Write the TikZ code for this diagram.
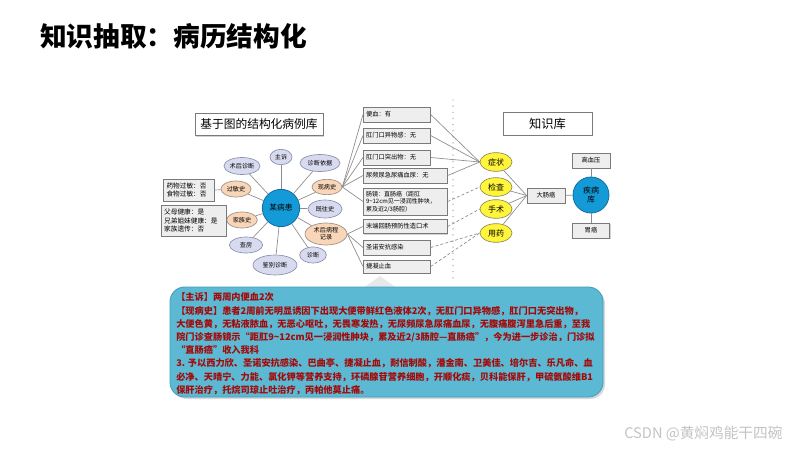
\documentclass[tikz,border=0pt]{standalone}
\usepackage{fontspec}
\setmainfont{Noto Sans CJK SC}
\usetikzlibrary{shapes.geometric,shadows}
\definecolor{lav}{HTML}{D8DBEF}
\definecolor{lavbd}{HTML}{8A90AE}
\definecolor{peach}{HTML}{FAD6B8}
\definecolor{pchbd}{HTML}{9C8F88}
\definecolor{cblue}{HTML}{149BD7}
\definecolor{cbd}{HTML}{0F6E9E}
\definecolor{yel}{HTML}{FFF53A}
\definecolor{yelbd}{HTML}{8C8A5A}
\definecolor{boxfill}{HTML}{EEEEEE}
\definecolor{boxbd}{HTML}{7A7A7A}
\definecolor{linegray}{HTML}{8C8C8C}
\definecolor{bbfill}{HTML}{5BB9D3}
\definecolor{bbbd}{HTML}{3E9DBA}
\definecolor{txtred}{HTML}{A30A0A}
\definecolor{wm}{HTML}{C4C4C4}
\begin{document}
\begin{tikzpicture}[x=0.75pt,y=-0.75pt,
  conn/.style={draw=linegray, line width=0.5pt},
  dconn/.style={conn, dash pattern=on 2.2pt off 1.6pt},
  lavel/.style={ellipse, draw=lavbd, fill=lav, line width=0.5pt, inner sep=0pt, font=\fontsize{4.6}{5.4}\selectfont, align=center},
  pchel/.style={lavel, fill=peach, draw=pchbd},
  yelel/.style={ellipse, draw=yelbd, fill=yel, line width=0.5pt, inner sep=0pt, minimum width=24pt, minimum height=14pt, font=\fontsize{6}{7}\selectfont},
  tbox/.style={rectangle, draw=boxbd, fill=white, line width=0.6pt, inner sep=0pt, drop shadow={shadow xshift=1pt, shadow yshift=-1pt, opacity=0.35}},
  ibox/.style={rectangle, draw=boxbd, fill=boxfill, line width=0.5pt, inner ysep=1pt, inner xsep=2.5pt, align=left, drop shadow={shadow xshift=0.8pt, shadow yshift=-0.8pt, opacity=0.35}},
  lbox/.style={ibox, anchor=west, inner xsep=2pt, minimum height=11.25pt, font=\fontsize{4.7}{6}\selectfont},
  sbox/.style={rectangle, draw=boxbd, fill=boxfill, line width=0.5pt, inner sep=0pt, minimum height=11.25pt, font=\fontsize{4.7}{6}\selectfont, drop shadow={shadow xshift=0.8pt, shadow yshift=-0.8pt, opacity=0.35}},
  redline/.style={anchor=west, inner sep=0pt, text=txtred, font=\fontsize{6.9}{8}\selectfont\bfseries}
]
\useasboundingbox (0,0) rectangle (800,450);
\fill[white] (0,0) rectangle (800,450);

% title
\node[anchor=west, inner sep=0pt, font=\fontsize{20}{24}\selectfont\bfseries] (title) at (40,36) {知识抽取：病历结构化};

% left panel
\node[tbox, minimum width=96pt, minimum height=17pt, font=\fontsize{8.8}{10}\selectfont] (lt) at (259,124.5) {基于图的结构化病例库};

\node[circle, fill=cblue, draw=cbd, line width=0.6pt, minimum size=28pt, inner sep=0pt, font=\fontsize{5.8}{7}\selectfont] (pt) at (281,208) {某病患};

\node[lavel, minimum width=16.5pt, minimum height=11.5pt] (zs) at (281,157) {主诉};
\node[lavel, minimum width=27pt, minimum height=12.75pt] (shzd) at (242,166) {术后诊断};
\node[lavel, minimum width=30pt, minimum height=12.75pt] (zdyj) at (320,163) {诊断依据};
\node[pchel, minimum width=22.5pt, minimum height=12pt] (gms) at (236,189) {过敏史};
\node[pchel, minimum width=22.5pt, minimum height=11.5pt] (xbs) at (327,187) {现病史};
\node[lavel, minimum width=25.5pt, minimum height=13.5pt] (jws) at (325,209) {既往史};
\node[pchel, minimum width=23pt, minimum height=12pt] (jzs) at (242,220) {家族史};
\node[pchel, minimum width=31.5pt, minimum height=16.5pt] (shbc) at (326,234) {术后病程\\记录};
\node[lavel, minimum width=25pt, minimum height=12pt] (cf) at (246,245) {查房};
\node[lavel, minimum width=20pt, minimum height=12pt] (zd) at (313,255) {诊断};
\node[lavel, minimum width=33pt, minimum height=15pt] (jbzd) at (275,265) {鉴别诊断};

\node[ibox, text width=33pt, minimum height=16.5pt, font=\fontsize{5}{6.4}\selectfont] (gmbox) at (188.5,190) {药物过敏：否\\食物过敏：否};
\node[ibox, text width=44pt, minimum height=23.25pt, font=\fontsize{5}{6.3}\selectfont] (jzbox) at (193.5,220.5) {父母健康：是\\兄弟姐妹健康：是\\家族遗传：否};

\foreach \n in {zs,shzd,zdyj,gms,xbs,jws,jzs,shbc,cf,zd,jbzd} \draw[conn] (pt) -- (\n);
\draw[conn] (gms) -- (gmbox.east);
\draw[conn] (jzs) -- (jzbox.east);

% list boxes
\node[lbox, text width=46.25pt] (b1) at (363,114.5) {便血：有};
\node[lbox, text width=46.25pt] (b2) at (363,135.5) {肛门口异物感：无};
\node[lbox, text width=46.25pt] (b3) at (363,157.5) {肛门口突出物：无};
\node[lbox, text width=59pt] (b4) at (363,175.5) {尿频尿急尿痛血尿：无};
\node[lbox, text width=59pt, minimum height=20.25pt, font=\fontsize{4.5}{5.6}\selectfont] (b5) at (363,201.5) {肠镜：直肠癌（距肛\\9\textasciitilde12cm见一浸润性肿块，\\累及近2/3肠腔）};
\node[lbox, text width=59pt, minimum height=10.5pt] (b6) at (363,226.5) {末端回肠预防性造口术};
\node[lbox, text width=46.25pt] (b7) at (363,247.5) {圣诺安抗感染};
\node[lbox, text width=46.25pt, minimum height=10pt] (b8) at (363,266.5) {捷凝止血};

\foreach \n in {b1,b2,b3,b4,b5} \draw[conn] (xbs.east) -- (\n.west);
\foreach \n in {b6,b7,b8} \draw[conn] (shbc.east) -- (\n.west);

% dotted separator
\coordinate (d1) at (453,100);
\coordinate (d2) at (453,283);
\draw[linegray!80, line width=1.1pt, line cap=round, dash pattern=on 0pt off 4.6pt] (d1) -- (d2);

% right panel
\node[tbox, minimum width=66.75pt, minimum height=17.25pt, font=\fontsize{9.2}{10}\selectfont] (kb) at (547.5,123.5) {知识库};

\node[yelel] (y1) at (496,162) {症状};
\node[yelel] (y2) at (496,187) {检查};
\node[yelel] (y3) at (496,209) {手术};
\node[yelel] (y4) at (496,233) {用药};

\foreach \n in {b1,b2,b3,b4} \draw[conn] (\n.east) -- (y1.west);
\draw[dconn] (b5.east) -- (y2.west);
\draw[dconn] (b6.east) -- (y3.west);
\draw[dconn] (b7.east) -- (y4.west);
\draw[dconn] (b8.east) -- (y4.west);

\node[sbox, minimum width=28.5pt] (dc) at (546,195.5) {大肠癌};
\node[circle, fill=cblue, draw=cbd, line width=0.6pt, minimum size=27pt, inner sep=0pt, align=center, font=\fontsize{6}{7}\selectfont] (jbk) at (591,195) {疾病\\库};
\node[sbox, minimum width=28.5pt] (gxy) at (591,160.5) {高血压};
\node[sbox, minimum width=27.75pt] (wa) at (591,230.5) {胃癌};

\foreach \n in {y1,y2,y3,y4} \draw[conn] (\n) -- (dc.west);
\draw[conn] (dc) -- (jbk);
\draw[conn] (gxy) -- (jbk);
\draw[conn] (jbk) -- (wa);

% pointer and bottom box
\coordinate (p1) at (362,289);
\coordinate (p2) at (398,289);
\coordinate (p3) at (380,276);
\fill[gray!18] (p1) -- (p3) -- (p2) -- cycle;
\node[rectangle, rounded corners=11pt, draw=bbbd, fill=bbfill, line width=0.6pt, minimum width=324.75pt, minimum height=82.5pt, inner sep=0pt, drop shadow={shadow xshift=1.5pt, shadow yshift=-1.5pt, opacity=0.3}] (bb) at (386.5,342) {};

\node[redline] (t1) at (176,297) {【主诉】两周内便血2次};
\node[redline] (t2) at (176,311) {【现病史】患者2周前无明显诱因下出现大便带鲜红色液体2次，无肛门口异物感，肛门口无突出物，};
\node[redline] (t3) at (176,324) {大便色黄，无粘液脓血，无恶心呕吐，无畏寒发热，无尿频尿急尿痛血尿，无腹痛腹泻里急后重，至我};
\node[redline] (t4) at (176,337) {院门诊查肠镜示“距肛9\textasciitilde12cm见一浸润性肿块，累及近2/3肠腔—直肠癌”，今为进一步诊治，门诊拟};
\node[redline] (t5) at (176,350) {“直肠癌”收入我科};
\node[redline] (t6) at (176,363) {3. 予以西力欣、圣诺安抗感染、巴曲亭、捷凝止血，耐信制酸，潘金南、卫美佳、培尔吉、乐凡命、血};
\node[redline] (t7) at (176,377) {必净、天晴宁、力能、氯化钾等营养支持，环磷腺苷营养细胞，开顺化痰，贝科能保肝，甲硫氨酸维B1};
\node[redline] (t8) at (176,390) {保肝治疗，托烷司琼止吐治疗，丙帕他莫止痛。};

% watermark
\node[anchor=west, inner sep=0pt, text=wm, font=\fontsize{11}{12}\selectfont] (wmk) at (624,434) {CSDN @黄焖鸡能干四碗};
\end{tikzpicture}
\end{document}
